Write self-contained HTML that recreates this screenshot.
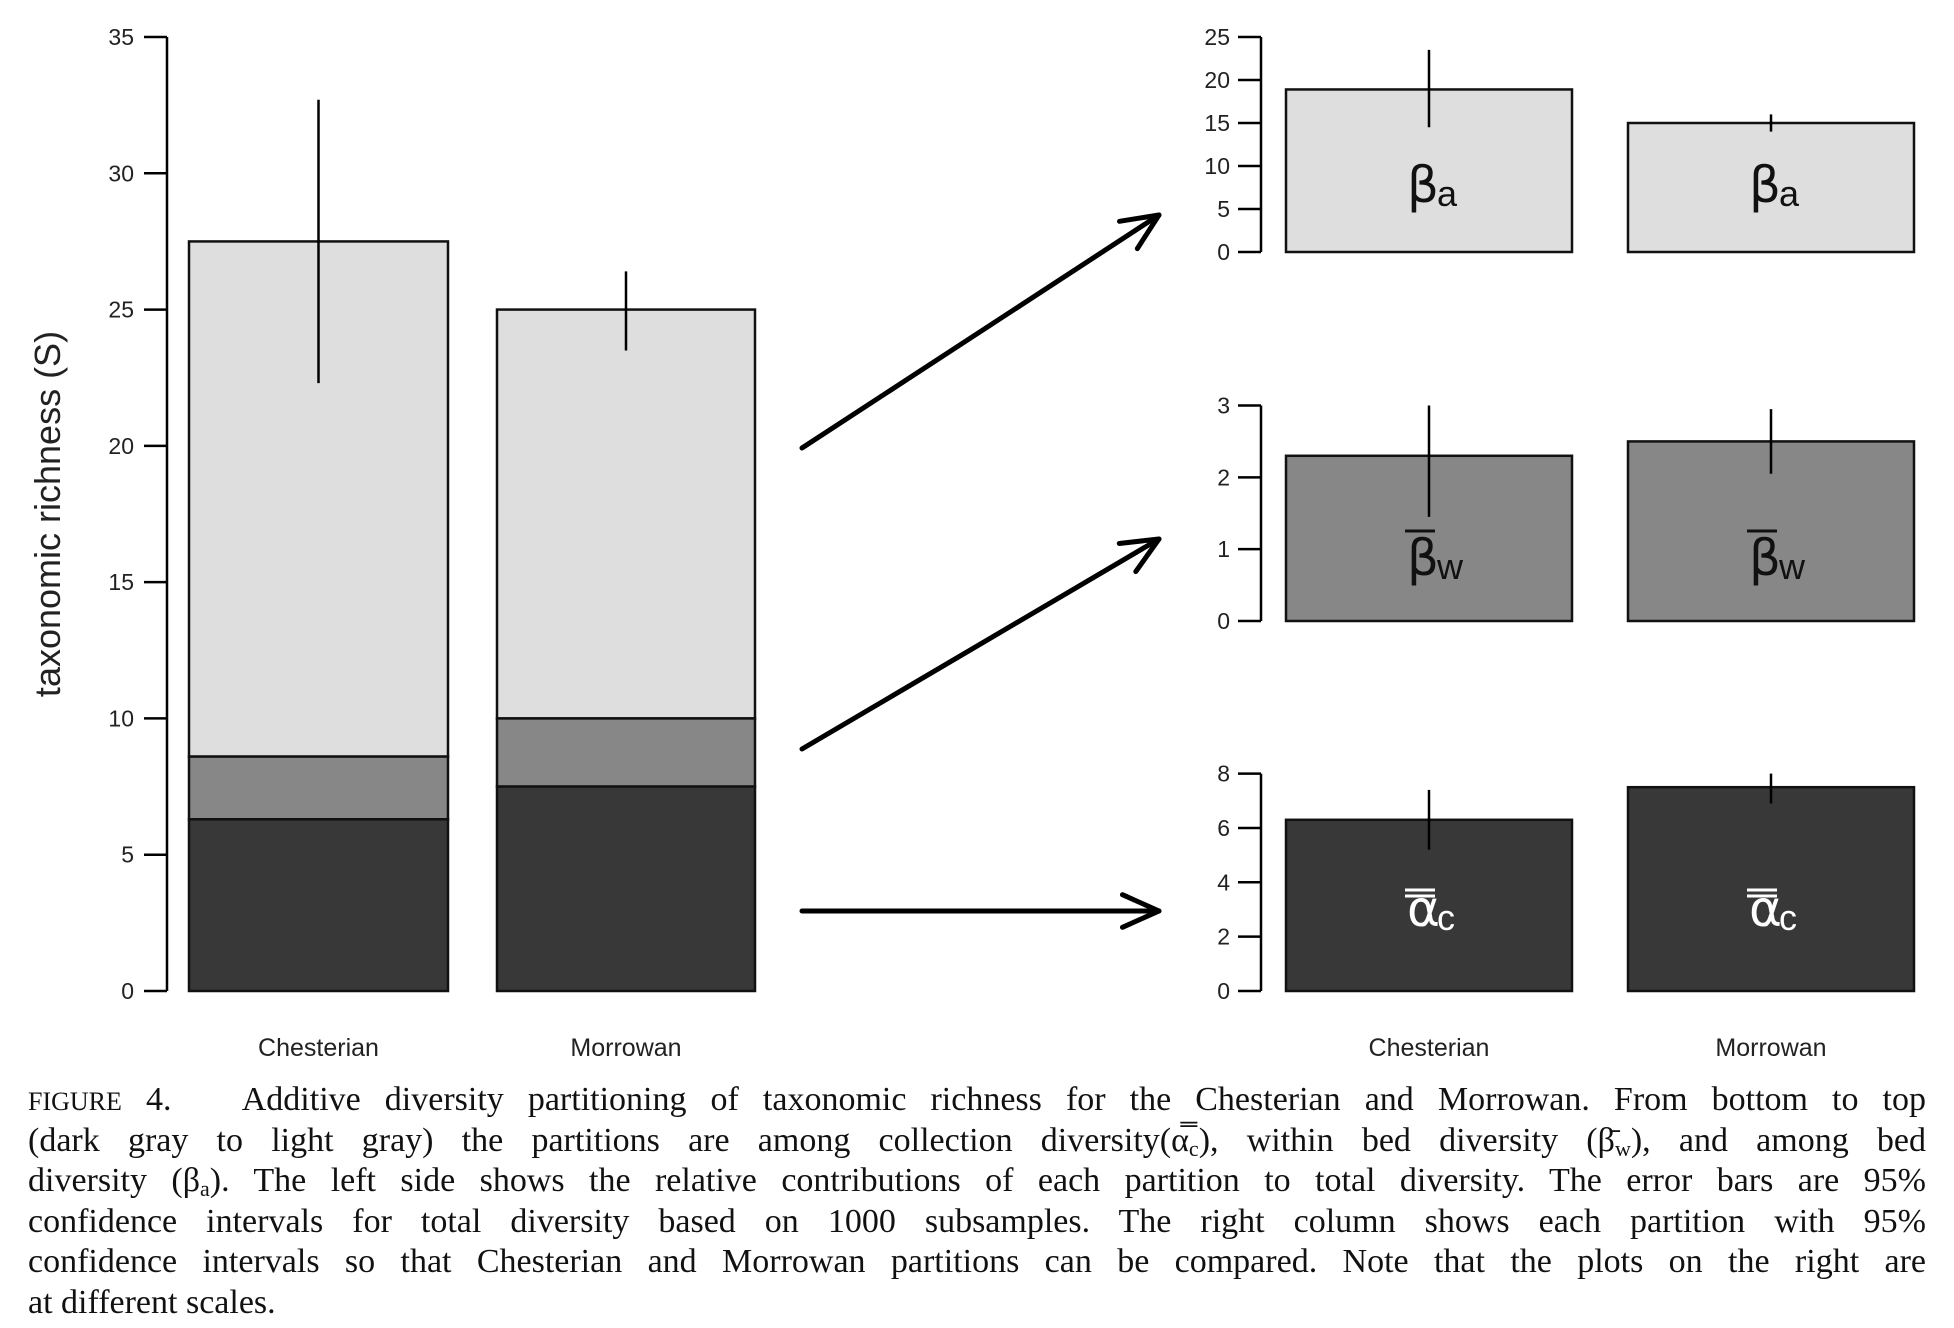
<!DOCTYPE html>
<html><head><meta charset="utf-8"><style>
body{margin:0;background:#fff;width:1954px;height:1328px;overflow:hidden;position:relative}
svg{position:absolute;left:0;top:0}
.cap{position:absolute;left:28px;width:1898px;font-family:"Liberation Serif",serif;font-size:34px;color:#111;line-height:40.6px;top:1080px}
.cap div{text-align:justify;text-align-last:justify;white-space:nowrap;height:40.6px}
.cap div.last{text-align-last:left}
.cap sub{font-size:22px;line-height:0;vertical-align:-5px}
.sc{font-size:26px}
</style></head><body>
<svg id="fig" width="1954" height="1328"></svg>
<div class="cap">
<div><span class="sc">FIGURE</span> 4.&nbsp;&nbsp; Additive diversity partitioning of taxonomic richness for the Chesterian and Morrowan. From bottom to top</div>
<div>(dark gray to light gray) the partitions are among collection diversity(α̿<sub>c</sub>), within bed diversity (β̄<sub>w</sub>), and among bed</div>
<div>diversity (β<sub>a</sub>). The left side shows the relative contributions of each partition to total diversity. The error bars are 95%</div>
<div>confidence intervals for total diversity based on 1000 subsamples. The right column shows each partition with 95%</div>
<div>confidence intervals so that Chesterian and Morrowan partitions can be compared. Note that the plots on the right are</div>
<div class="last">at different scales.</div>
</div>
<script>
const categories=["Chesterian","Morrowan"];
const alphaC=[6.3,7.5];
const betaW=[2.3,2.5];
const betaA=[18.9,15.0];
const totalErrLo=[22.3,23.5];
const totalErrHi=[32.7,26.4];
const leftTicks=[0,5,10,15,20,25,30,35];
const betaAErrLo=[14.5,14.0], betaAErrHi=[23.5,16.0];
const betaWErrLo=[1.45,2.05], betaWErrHi=[3.0,2.95];
const alphaErrLo=[5.2,6.9], alphaErrHi=[7.4,8.0];
const ticksA=[0,5,10,15,20,25], ticksW=[0,1,2,3], ticksC=[0,2,4,6,8];

const svg=document.getElementById('fig');
const NS="http://www.w3.org/2000/svg";
function mk(t,a,name,txt){const e=document.createElementNS(NS,t);for(const k in a)e.setAttribute(k,a[k]);


if(txt!==undefined)e.textContent=txt;svg.appendChild(e);return e;}
const C1="#dedede",C2="#878787",C3="#383838";

// left chart
const L={ax:167,y0:991,y1:37,max:35,bx:[[189,448],[497,755]]};
const ly=v=>L.y0-(L.y0-L.y1)*v/L.max;
mk('line',{x1:L.ax,y1:ly(0),x2:L.ax,y2:ly(35),stroke:'#000','stroke-width':2.5},'y-axis-left');
leftTicks.forEach(t=>{mk('line',{x1:144,y1:ly(t),x2:L.ax,y2:ly(t),stroke:'#000','stroke-width':2.5},'y-tick-left');
mk('text',{x:134,y:ly(t)+8,'text-anchor':'end','font-family':'Liberation Sans,sans-serif','font-size':23,fill:'#222'},'y-tick-label-left',t);});
mk('text',{x:0,y:0,transform:'translate(60,514) rotate(-90)','text-anchor':'middle','font-family':'Liberation Sans,sans-serif','font-size':36,fill:'#222'},'y-axis-title','taxonomic richness (S)');
categories.forEach((c,i)=>{const [x0,x1]=L.bx[i];const w=x1-x0;
 const a=alphaC[i],b=a+betaW[i],t=b+betaA[i];
 mk('rect',{x:x0,y:ly(t),width:w,height:ly(b)-ly(t),fill:C1,stroke:'#111','stroke-width':2.5},'bar-beta-a-'+c.toLowerCase());
 mk('rect',{x:x0,y:ly(b),width:w,height:ly(a)-ly(b),fill:C2,stroke:'#111','stroke-width':2.5},'bar-beta-w-'+c.toLowerCase());
 mk('rect',{x:x0,y:ly(a),width:w,height:ly(0)-ly(a),fill:C3,stroke:'#111','stroke-width':2.5},'bar-alpha-c-'+c.toLowerCase());
 const cx=(x0+x1)/2;
 mk('line',{x1:cx,y1:ly(totalErrLo[i]),x2:cx,y2:ly(totalErrHi[i]),stroke:'#000','stroke-width':2.5},'error-bar-total-'+c.toLowerCase());
 mk('text',{x:cx,y:1056,'text-anchor':'middle','font-family':'Liberation Sans,sans-serif','font-size':25,fill:'#222'},'x-label-left-'+c.toLowerCase(),c);
});

// right panels
const bxR=[[1293-7,1579-7],[1636-8,1922-8]];
const AX=1261;
const panels=[
 {name:'beta-a',vals:betaA,lo:betaAErrLo,hi:betaAErrHi,ticks:ticksA,max:25,y0:252,y1:37,fill:C1,sym:'β',sub:'a',bar:0,col:'#111',ly:188},
 {name:'beta-w',vals:betaW,lo:betaWErrLo,hi:betaWErrHi,ticks:ticksW,max:3,y0:621,y1:405.5,fill:C2,sym:'β',sub:'w',bar:1,col:'#111',ly:561},
 {name:'alpha-c',vals:alphaC,lo:alphaErrLo,hi:alphaErrHi,ticks:ticksC,max:8,y0:991,y1:773.6,fill:C3,sym:'α',sub:'c',bar:2,col:'#fff',ly:912}];
panels.forEach(p=>{const y=v=>p.y0-(p.y0-p.y1)*v/p.max;
 mk('line',{x1:AX,y1:y(0),x2:AX,y2:y(p.max),stroke:'#000','stroke-width':2.5},'y-axis-'+p.name);
 p.ticks.forEach(t=>{mk('line',{x1:AX-23,y1:y(t),x2:AX,y2:y(t),stroke:'#000','stroke-width':2.5},'y-tick-'+p.name);
  mk('text',{x:AX-31,y:y(t)+8,'text-anchor':'end','font-family':'Liberation Sans,sans-serif','font-size':23,fill:'#222'},'y-tick-label-'+p.name,t);});
 categories.forEach((c,i)=>{const [x0,x1]=bxR[i];const cx=(x0+x1)/2;
  mk('rect',{x:x0,y:y(p.vals[i]),width:x1-x0,height:y(0)-y(p.vals[i]),fill:p.fill,stroke:'#111','stroke-width':2.5},'bar-'+p.name+'-'+c.toLowerCase());
  const ty=p.ly+14;
  mk('text',{x:cx-22,y:ty,'font-family':'DejaVu Sans,sans-serif','font-size':50,fill:p.col},'label-'+p.name+'-'+c.toLowerCase(),p.sym);
  mk('text',{x:cx+8,y:ty+4,'font-family':'Liberation Sans,sans-serif','font-size':36,fill:p.col},'label-sub-'+p.name+'-'+c.toLowerCase(),p.sub);
  if(p.bar===1){mk('line',{x1:cx-24,y1:ty-44,x2:cx+6,y2:ty-44,stroke:p.col,'stroke-width':3},'overbar');}
  if(p.bar===2){mk('line',{x1:cx-24,y1:ty-36,x2:cx+6,y2:ty-36,stroke:p.col,'stroke-width':3},'overbar');
   mk('line',{x1:cx-24,y1:ty-30,x2:cx+6,y2:ty-30,stroke:p.col,'stroke-width':3},'overbar');}
  mk('line',{x1:cx,y1:y(p.lo[i]),x2:cx,y2:y(p.hi[i]),stroke:'#000','stroke-width':2.5},'error-bar-'+p.name+'-'+c.toLowerCase());
 });
});
categories.forEach((c,i)=>{const cx=(bxR[i][0]+bxR[i][1])/2;
 mk('text',{x:cx,y:1056,'text-anchor':'middle','font-family':'Liberation Sans,sans-serif','font-size':25,fill:'#222'},'x-label-right-'+c.toLowerCase(),c);});

// arrows
function arrow(x1,y1,x2,y2,name){mk('line',{x1,y1,x2,y2,stroke:'#000','stroke-width':5,'stroke-linecap':'round'},name);
 const ang=Math.atan2(y2-y1,x2-x1),L2=40,sp=0.42;
 const p=a=>(x2-L2*Math.cos(a))+','+(y2-L2*Math.sin(a));
 mk('polyline',{points:p(ang-sp)+' '+x2+','+y2+' '+p(ang+sp),fill:'none',stroke:'#000','stroke-width':5,'stroke-linecap':'round','stroke-linejoin':'round'},name+'-head');}
arrow(802,448,1159,215,'arrow-to-beta-a');
arrow(802,749,1159,539,'arrow-to-beta-w');
arrow(802,911,1159,911,'arrow-to-alpha-c');
</script>
</body></html>
